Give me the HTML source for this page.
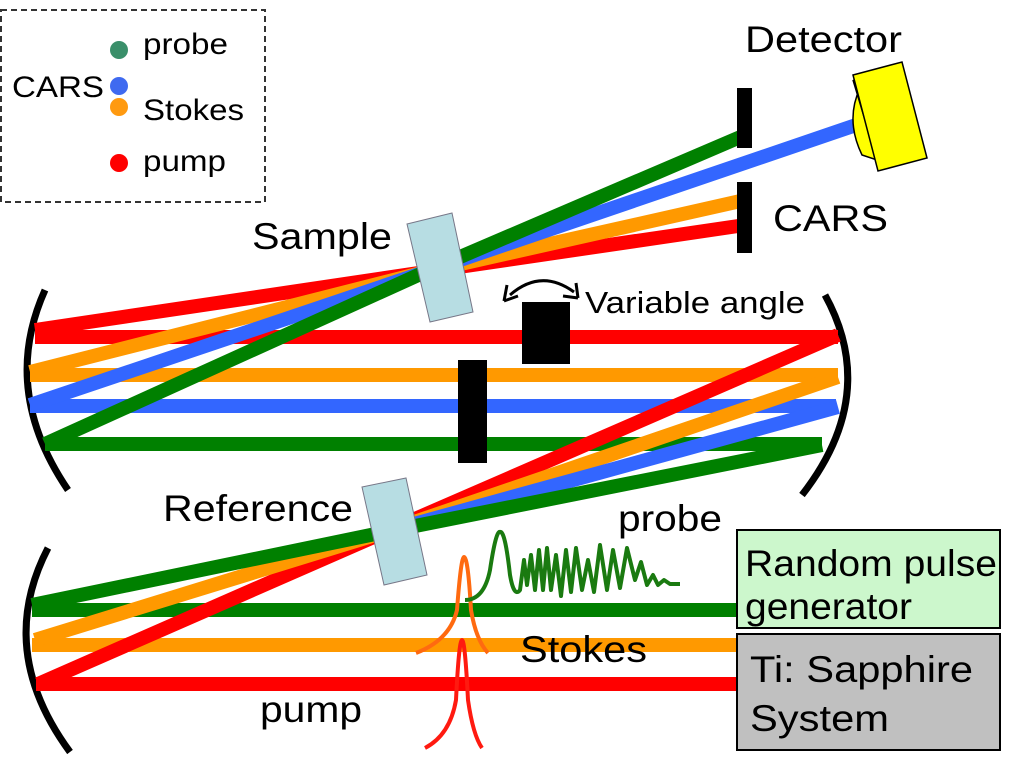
<!DOCTYPE html>
<html><head><meta charset="utf-8"><style>
html,body{margin:0;padding:0;background:#fff;}
svg{display:block;font-family:"Liberation Sans",Arial,sans-serif;}
</style></head><body>
<svg width="1017" height="759" viewBox="0 0 1017 759" xmlns="http://www.w3.org/2000/svg">
<!-- legend -->
<rect x="1" y="10" width="264" height="192" fill="none" stroke="#333" stroke-width="2" stroke-dasharray="6,4"/>
<circle cx="119" cy="50" r="9" fill="#3a8f6a"/>
<circle cx="119" cy="86" r="9" fill="#3f6af0"/>
<circle cx="119" cy="107" r="9" fill="#ff9a10"/>
<circle cx="119" cy="163" r="9" fill="#ff0000"/>
<g font-size="30" fill="#000" lengthAdjust="spacingAndGlyphs">
<text x="143" y="54" textLength="85" lengthAdjust="spacingAndGlyphs">probe</text>
<text x="12" y="97" textLength="92" lengthAdjust="spacingAndGlyphs">CARS</text>
<text x="143" y="120" textLength="101" lengthAdjust="spacingAndGlyphs">Stokes</text>
<text x="143" y="171" textLength="83" lengthAdjust="spacingAndGlyphs">pump</text>
</g>

<!-- mirrors -->
<g fill="none" stroke="#000" stroke-width="7">
<path d="M45,290 Q0,390 68,490"/>
<path d="M825,295 Q880,395 802,495"/>
<path d="M48,548 Q-5,650 70,752"/>
</g>

<g stroke-width="14" stroke-linecap="butt" stroke-linejoin="round" fill="none">
<!-- middle horizontals -->
<line x1="35" y1="337" x2="838" y2="337" stroke="#ff0000"/>
<line x1="30" y1="375" x2="838" y2="375" stroke="#ff9900"/>
<line x1="30" y1="406" x2="836" y2="406" stroke="#3366ff"/>
<line x1="45" y1="444" x2="822" y2="444" stroke="#008000"/>
<!-- upper diagonals through sample focus (425,272) -->
<polyline points="35,330 425,272 745,225" stroke="#ff0000"/>
<polyline points="30,372 425,272 745,200" stroke="#ff9900"/>
<polyline points="30,405 425,272 862,123" stroke="#3366ff"/>
<polyline points="45,444 425,272 745,135" stroke="#008000"/>
<!-- bottom horizontals -->
<line x1="32" y1="610" x2="737" y2="610" stroke="#008000"/>
<line x1="32" y1="645" x2="737" y2="645" stroke="#ff9900"/>
<line x1="36" y1="684" x2="737" y2="684" stroke="#ff0000"/>
<!-- lower diagonals through reference focus (385,532) -->
<polyline points="38,684 385,532 838,335" stroke="#ff0000"/>
<polyline points="35,640 385,532 838,377" stroke="#ff9900"/>
<line x1="385" y1="532" x2="838" y2="407" stroke="#3366ff"/>
<polyline points="32,605 385,532 822,445" stroke="#008000"/>
</g>

<!-- sample & reference -->
<polygon points="407,224 452,213 473,312 430,322" fill="#b7dde3" stroke="#778" stroke-width="1"/>
<polygon points="362,487 406,478 427,575 384,585" fill="#b7dde3" stroke="#778" stroke-width="1"/>

<!-- blocks -->
<rect x="458" y="360" width="29" height="103" fill="#000"/>
<rect x="522" y="302" width="48" height="62" fill="#000"/>
<path d="M510,295 Q541,268 574,292" fill="none" stroke="#000" stroke-width="3"/>
<path d="M504,301 L507,285 M504,301 L518,296" stroke="#000" stroke-width="3" fill="none"/>
<path d="M578,298 L563,296 M578,298 L576,283" stroke="#000" stroke-width="3" fill="none"/>

<!-- stops -->
<rect x="737" y="88" width="15" height="60" fill="#000"/>
<rect x="737" y="182" width="15" height="71" fill="#000"/>

<!-- detector -->
<path d="M860,88 Q845,120 862,155 L877,160 L853,80 Z" fill="#ffff00" stroke="#000" stroke-width="1.5"/>
<polygon points="853,75 902,62 927,158 878,171" fill="#ffff00" stroke="#000" stroke-width="1.5"/>

<!-- pulses -->
<path d="M416,653 Q450,640 457,610 Q461,557 464,557 Q468,557 471,610 Q476,640 488,653" fill="none" stroke="#ff6a10" stroke-width="4"/>
<path d="M425,748 Q450,735 456,700 Q459,640 462,640 Q465,640 468,700 Q473,735 482,748" fill="none" stroke="#ff1a10" stroke-width="4"/>
<path d="M465,600 Q484,600 490,570 Q496,530 500,532 Q505,530 510,575 Q514,598 520,590 L524,560 L527,585 L531,555 L535,590 L539,550 L543,590 L547,548 L551,590 L556,555 L561,596 L566,550 L571,592 L576,548 L582,590 L588,560 L594,592 L600,545 L607,590 L613,550 L620,588 L627,548 L635,580 L641,562 L647,585 L653,575 L658,585 L664,580 L670,584 L680,584" fill="none" stroke="#1a7a10" stroke-width="4" stroke-linejoin="round"/>

<!-- boxes -->
<rect x="737" y="530" width="263" height="98" fill="#ccf7cc" stroke="#000" stroke-width="2"/>
<rect x="737" y="634" width="263" height="116" fill="#c0c0c0" stroke="#000" stroke-width="2"/>

<g font-size="37" fill="#000">
<text x="745" y="52" textLength="157" lengthAdjust="spacingAndGlyphs">Detector</text>
<text x="773" y="231" textLength="115" lengthAdjust="spacingAndGlyphs">CARS</text>
<text x="252" y="249" textLength="140" lengthAdjust="spacingAndGlyphs">Sample</text>
<text x="163" y="521" textLength="190" lengthAdjust="spacingAndGlyphs">Reference</text>
<text x="618" y="531" textLength="104" lengthAdjust="spacingAndGlyphs">probe</text>
<text x="520" y="662" textLength="127" lengthAdjust="spacingAndGlyphs">Stokes</text>
<text x="260" y="722" textLength="102" lengthAdjust="spacingAndGlyphs">pump</text>
<text x="745" y="576" textLength="252" lengthAdjust="spacingAndGlyphs">Random pulse</text>
<text x="745" y="619" textLength="167" lengthAdjust="spacingAndGlyphs">generator</text>
<text x="750" y="682" textLength="223" lengthAdjust="spacingAndGlyphs">Ti: Sapphire</text>
<text x="750" y="731" textLength="139" lengthAdjust="spacingAndGlyphs">System</text>
</g>
<text x="585" y="313" font-size="31" fill="#000" textLength="220" lengthAdjust="spacingAndGlyphs">Variable angle</text>
</svg>
</body></html>
